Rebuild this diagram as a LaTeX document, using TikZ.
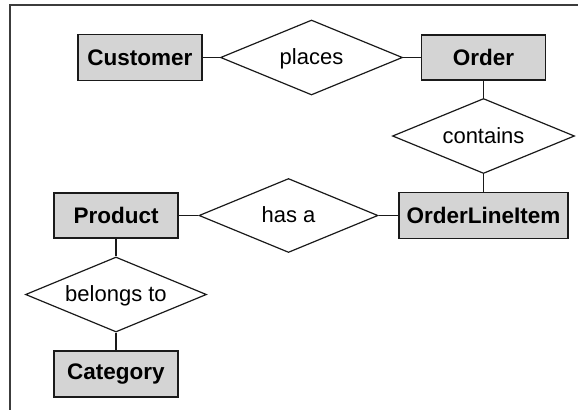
\documentclass[tikz,border=0pt]{standalone}
\usepackage{fontspec}
\setmainfont{Liberation Sans}
\usetikzlibrary{shapes.geometric}
\definecolor{boxfill}{HTML}{D4D4D4}
\definecolor{edge}{HTML}{1A1A1A}
\newcommand{\rlabel}[1]{\makebox[0pt]{\raisebox{-0.32em}[0pt][0pt]{#1}}}
\begin{document}
\begin{tikzpicture}[x=1pt,y=-1pt,
  entity/.style={draw=edge,line width=1.2pt,fill=boxfill,minimum width=124pt,minimum height=46pt,inner sep=0pt,font=\fontsize{22.5}{26}\selectfont\bfseries},
  rel/.style={draw=edge,line width=1.2pt,shape=diamond,fill=white,minimum width=182pt,minimum height=75pt,inner sep=0pt,font=\fontsize{22}{26}\selectfont},
  link/.style={draw=edge,line width=1.2pt}]
\useasboundingbox (0,0) rectangle (578,410);
\coordinate (fc) at (10,5);
\coordinate (fr) at (578,5);
\coordinate (fb) at (10,410);
\draw[line width=1.5pt,color=edge!85] (fr) -- (fc) -- (fb);
\node[entity] (customer) at (140,57.5) {Customer};
\node[rel] (places) at (311.5,57.5) {\rlabel{places}};
\node[entity,minimum height=45pt] (order) at (483.5,57.5) {Order};
\node[rel] (contains) at (483.5,136) {\rlabel{contains}};
\node[entity,minimum width=169pt] (oli) at (483.5,215.5) {OrderLineItem};
\node[rel,minimum width=179pt,minimum height=74pt] (hasa) at (288.5,215.5) {\rlabel{has a}};
\node[entity,minimum height=45pt] (product) at (116,215.5) {Product};
\node[rel,minimum width=181pt] (belongs) at (116,294.5) {\rlabel{belongs to}};
\node[entity] (category) at (116,374) {Category};
\draw[link] (customer.east) -- (places.west);
\draw[link] (places.east) -- (order.west);
\draw[link] (order.south) -- (contains.north);
\draw[link] (contains.south) -- (oli.north);
\draw[link] (product.east) -- (hasa.west);
\draw[link] (hasa.east) -- (oli.west);
\draw[link] (product.south) -- (belongs.north);
\draw[link] (belongs.south) -- (category.north);
\end{tikzpicture}
\end{document}
